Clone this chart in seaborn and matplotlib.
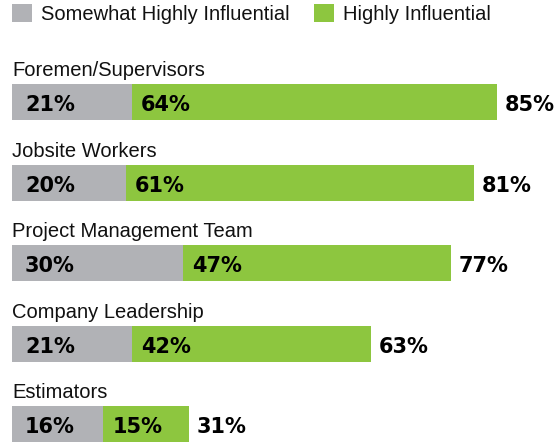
import matplotlib
matplotlib.use("Agg")
import matplotlib.pyplot as plt
from matplotlib.patches import Patch
import seaborn as sns
import pandas as pd

categories = ["Foremen/Supervisors", "Jobsite Workers", "Project Management Team",
              "Company Leadership", "Estimators"]
somewhat = [21, 20, 30, 21, 16]
highly = [64, 61, 47, 42, 15]
totals = [85, 81, 77, 63, 31]
legend_labels = ["Somewhat Highly Influential", "Highly Influential"]

GRAY = "#b1b2b6"
GREEN = "#8dc63f"

sns.set_theme(style="white")
plt.rcParams["font.family"] = ["Liberation Sans", "DejaVu Sans"]

W, H, DPI = 559, 442, 100
fig = plt.figure(figsize=(W / DPI, H / DPI), dpi=DPI)
ax = fig.add_axes([12 / W, 0, (W - 12) / W, 1])

df = pd.DataFrame({"category": categories, "somewhat": somewhat,
                   "highly": highly, "total": totals})

px_per_row = 80.5
bar_h = 36 / px_per_row

sns.barplot(data=df, y="category", x="total", order=categories, color=GREEN,
            width=bar_h, saturation=1, orient="h", ax=ax, linewidth=0, edgecolor="none")
sns.barplot(data=df, y="category", x="somewhat", order=categories, color=GRAY,
            width=bar_h, saturation=1, orient="h", ax=ax, linewidth=0, edgecolor="none")

ax.set_xlim(0, (W - 12) / 5.7)
ax.set_ylim((H - 102) / px_per_row, -102 / px_per_row)
ax.set_axis_off()

num_font = dict(family="DejaVu Sans", fontweight="bold", fontsize=15, color="#000000")
for i, cat in enumerate(categories):
    ax.text(0, i - 26 / px_per_row, cat, fontsize=14.5, color="#111111",
            va="baseline", ha="left")
    yb = i + 9 / px_per_row
    ax.annotate(f"{somewhat[i]}%", xy=(0, yb), xytext=(13 * 72 / DPI, 0),
                textcoords="offset points", va="baseline", ha="left", **num_font)
    ax.annotate(f"{highly[i]}%", xy=(somewhat[i], yb), xytext=(9 * 72 / DPI, 0),
                textcoords="offset points", va="baseline", ha="left", **num_font)
    ax.annotate(f"{totals[i]}%", xy=(totals[i], yb), xytext=(8 * 72 / DPI, 0),
                textcoords="offset points", va="baseline", ha="left", **num_font)

handles = [Patch(facecolor=GRAY, edgecolor="none"), Patch(facecolor=GREEN, edgecolor="none")]
fig.legend(handles, legend_labels, loc="upper left", bbox_to_anchor=(12 / W, 1 - 4 / H),
           ncol=2, frameon=False, fontsize=14.5, handlelength=1.0, handleheight=1.0,
           handletextpad=0.45, columnspacing=1.2, borderpad=0, borderaxespad=0,
           labelcolor="#111111")

fig.savefig("out.png", dpi=DPI)
